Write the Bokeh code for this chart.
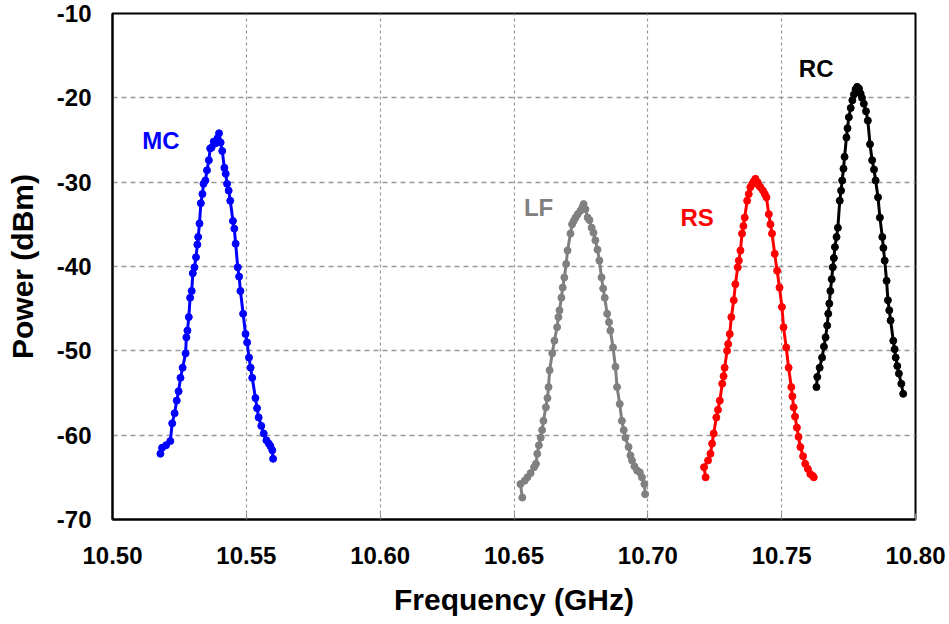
from bokeh.plotting import figure
from bokeh.embed import file_html
from bokeh.resources import INLINE
from bokeh.models import FixedTicker, Label, CustomJSTickFormatter

# ---- data ----
mc_f = [10.5179, 10.5185, 10.5200, 10.5216, 10.5223, 10.5232, 10.5240, 10.5247, 10.5254, 10.5262,
        10.5273, 10.5276, 10.5280, 10.5285, 10.5290, 10.5296, 10.5300, 10.5306, 10.5312, 10.5317,
        10.5320, 10.5325, 10.5330, 10.5336, 10.5340, 10.5347, 10.5353, 10.5360, 10.5365, 10.5370,
        10.5378, 10.5385, 10.5392, 10.5398, 10.5404, 10.5410, 10.5418, 10.5423, 10.5428, 10.5434,
        10.5440, 10.5450, 10.5455, 10.5460, 10.5468, 10.5473, 10.5478, 10.5488, 10.5497, 10.5503,
        10.5510, 10.5516, 10.5522, 10.5534, 10.5540, 10.5546, 10.5556, 10.5565, 10.5575, 10.5584,
        10.5590, 10.5597, 10.5600]
mc_p = [-62.2, -61.5, -61.2, -60.7, -58.6, -57.4, -55.9, -54.8, -53.2, -52.0,
        -50.3, -48.4, -47.6, -46.0, -43.7, -42.9, -40.8, -40.1, -38.9, -37.4,
        -36.5, -34.9, -32.5, -31.4, -30.2, -29.8, -28.6, -27.4, -26.0, -25.9,
        -25.2, -25.4, -24.8, -24.2, -25.3, -26.3, -28.3, -29.0, -30.2, -31.0,
        -32.2, -34.6, -35.5, -37.3, -40.1, -41.2, -42.9, -45.6, -48.0, -49.0,
        -50.8, -52.0, -53.2, -55.6, -56.8, -57.9, -58.9, -59.8, -60.6, -61.0,
        -61.3, -61.8, -62.8]

lf_f = [10.6531, 10.6524, 10.6540, 10.6550, 10.6562, 10.6575, 10.6582, 10.6587, 10.6593, 10.6600,
        10.6605, 10.6610, 10.6619, 10.6625, 10.6629, 10.6633, 10.6643, 10.6651, 10.6661, 10.6666,
        10.6670, 10.6677, 10.6682, 10.6688, 10.6695, 10.6700, 10.6711, 10.6717, 10.6723, 10.6730,
        10.6738, 10.6748, 10.6755, 10.6760, 10.6767, 10.6775, 10.6782, 10.6790, 10.6797, 10.6804,
        10.6812, 10.6819, 10.6827, 10.6833, 10.6839, 10.6848, 10.6855, 10.6860, 10.6870, 10.6879,
        10.6885, 10.6895, 10.6903, 10.6910, 10.6916, 10.6928, 10.6935, 10.6941, 10.6950, 10.6960,
        10.6970, 10.6978, 10.6987, 10.6990]
lf_p = [-67.4, -65.8, -65.4, -65.0, -64.5, -63.8, -63.4, -62.2, -61.2, -60.3,
        -59.4, -58.3, -56.7, -55.6, -54.3, -52.3, -50.3, -48.8, -47.2, -46.0,
        -45.2, -43.7, -42.5, -41.3, -39.7, -38.1, -36.1, -35.0, -34.6, -34.2,
        -33.8, -33.4, -33.0, -32.6, -33.2, -34.2, -34.5, -35.4, -36.0, -36.9,
        -38.0, -39.3, -41.3, -42.6, -43.7, -45.6, -46.6, -47.6, -49.6, -51.9,
        -54.3, -56.3, -58.3, -59.4, -60.3, -61.4, -62.4, -63.0, -63.7, -64.2,
        -64.4, -65.0, -65.8, -67.0]

rs_f = [10.7216, 10.7210, 10.7225, 10.7234, 10.7240, 10.7246, 10.7256, 10.7262, 10.7269, 10.7278,
        10.7283, 10.7287, 10.7296, 10.7300, 10.7306, 10.7312, 10.7321, 10.7327, 10.7336, 10.7340,
        10.7346, 10.7352, 10.7357, 10.7362, 10.7371, 10.7377, 10.7383, 10.7390, 10.7396, 10.7402,
        10.7410, 10.7415, 10.7421, 10.7430, 10.7437, 10.7443, 10.7452, 10.7458, 10.7464, 10.7474,
        10.7483, 10.7492, 10.7501, 10.7507, 10.7517, 10.7526, 10.7536, 10.7540, 10.7545, 10.7550,
        10.7557, 10.7563, 10.7570, 10.7580, 10.7588, 10.7598, 10.7607, 10.7615, 10.7620]
rs_p = [-65.0, -63.8, -63.0, -62.2, -61.0, -59.8, -57.9, -57.0, -55.9, -53.9,
        -53.0, -52.0, -50.0, -49.2, -48.0, -46.0, -44.0, -42.1, -40.1, -39.3,
        -38.1, -36.1, -35.2, -34.2, -32.2, -31.4, -30.6, -30.2, -29.9, -29.6,
        -30.0, -30.4, -30.6, -31.0, -31.4, -31.8, -33.8, -35.0, -36.1, -38.5,
        -40.5, -42.5, -44.8, -47.2, -49.6, -52.0, -54.3, -55.4, -56.7, -57.8,
        -59.1, -60.2, -61.4, -62.5, -63.4, -64.0, -64.6, -64.8, -65.0]

rc_f = [10.7630, 10.7633, 10.7642, 10.7651, 10.7658, 10.7664, 10.7670, 10.7674, 10.7678, 10.7682,
        10.7687, 10.7691, 10.7695, 10.7699, 10.7705, 10.7710, 10.7717, 10.7722, 10.7726, 10.7731,
        10.7735, 10.7742, 10.7746, 10.7751, 10.7758, 10.7764, 10.7770, 10.7776, 10.7782, 10.7789,
        10.7795, 10.7800, 10.7807, 10.7815, 10.7822, 10.7830, 10.7838, 10.7845, 10.7851, 10.7860,
        10.7867, 10.7876, 10.7880, 10.7885, 10.7892, 10.7897, 10.7902, 10.7907, 10.7917, 10.7922,
        10.7926, 10.7932, 10.7938, 10.7947, 10.7954]
rc_p = [-54.3, -53.1, -52.0, -50.8, -49.5, -48.4, -47.0, -45.6, -44.4, -42.9,
        -41.5, -40.1, -39.0, -37.7, -36.5, -35.4, -32.2, -31.0, -29.8, -28.4,
        -27.0, -24.7, -23.6, -22.3, -21.2, -20.3, -19.6, -19.0, -18.7, -18.9,
        -19.5, -20.0, -20.7, -21.6, -22.7, -25.5, -27.4, -28.5, -29.8, -31.8,
        -34.2, -36.5, -37.8, -39.3, -41.7, -44.0, -45.2, -46.4, -48.8, -49.8,
        -50.8, -51.8, -52.7, -53.9, -55.1]

x_ticks = [10.50, 10.55, 10.60, 10.65, 10.70, 10.75, 10.80]
y_ticks = [-70, -60, -50, -40, -30, -20, -10]

series = [
    ("MC", mc_f, mc_p, "#0000FF", 10.5111, -25.06),
    ("LF", lf_f, lf_p, "#808080", 10.6537, -32.97),
    ("RS", rs_f, rs_p, "#FF0000", 10.7122, -34.15),
    ("RC", rc_f, rc_p, "#000000", 10.7564, -16.52),
]

FONT = "Liberation Sans"

p = figure(width=949, height=624, x_range=(10.50, 10.80), y_range=(-70, -10),
           output_backend="svg", toolbar_location=None,
           min_border_left=112, min_border_right=34, min_border_top=13, min_border_bottom=105)
p.background_fill_color = "white"
p.border_fill_color = "white"
p.outline_line_color = "black"
p.outline_line_width = 2

for name, fx, py, col, lx, ly in series:
    p.line(fx, py, line_color=col, line_width=3)
    p.scatter(fx, py, size=7, fill_color=col, line_color=col)
    p.add_layout(Label(x=lx, y=ly, text=name, text_color=col, text_font=FONT,
                       text_font_style="bold", text_font_size="24px",
                       text_baseline="middle", text_align="left"))

p.xaxis.ticker = FixedTicker(ticks=x_ticks)
p.yaxis.ticker = FixedTicker(ticks=y_ticks)
p.xaxis.formatter = CustomJSTickFormatter(code="return tick.toFixed(2);")
p.yaxis.formatter = CustomJSTickFormatter(code="return tick.toFixed(0);")

for ax in (p.xaxis[0], p.yaxis[0]):
    ax.axis_line_color = "black"
    ax.axis_line_width = 2
    ax.major_label_text_font = FONT
    ax.major_label_text_font_style = "bold"
    ax.major_label_text_font_size = "24px"
    ax.major_label_text_color = "black"
    ax.axis_label_text_font = FONT
    ax.axis_label_text_font_style = "bold"
    ax.axis_label_text_font_size = "30px"
    ax.axis_label_text_color = "black"
    ax.minor_tick_line_color = None
    ax.major_tick_out = 0

p.xaxis.axis_label = "Frequency (GHz)"
p.yaxis.axis_label = "Power (dBm)"
p.xaxis.major_tick_in = 6
p.xaxis.major_tick_line_color = "#888888"
p.yaxis.major_tick_in = 0
p.yaxis.major_tick_line_color = None
p.xaxis.major_label_standoff = 27
p.xaxis.axis_label_standoff = 16
p.yaxis.major_label_standoff = 21
p.yaxis.axis_label_standoff = 15

p.ygrid.grid_line_color = "#999999"
p.ygrid.grid_line_dash = "5 4"
p.ygrid.grid_line_width = 1.3
p.xgrid.grid_line_color = "#999999"
p.xgrid.grid_line_dash = "3 3"
p.xgrid.grid_line_width = 1.2

open("out.html", "w").write(file_html(p, INLINE))
